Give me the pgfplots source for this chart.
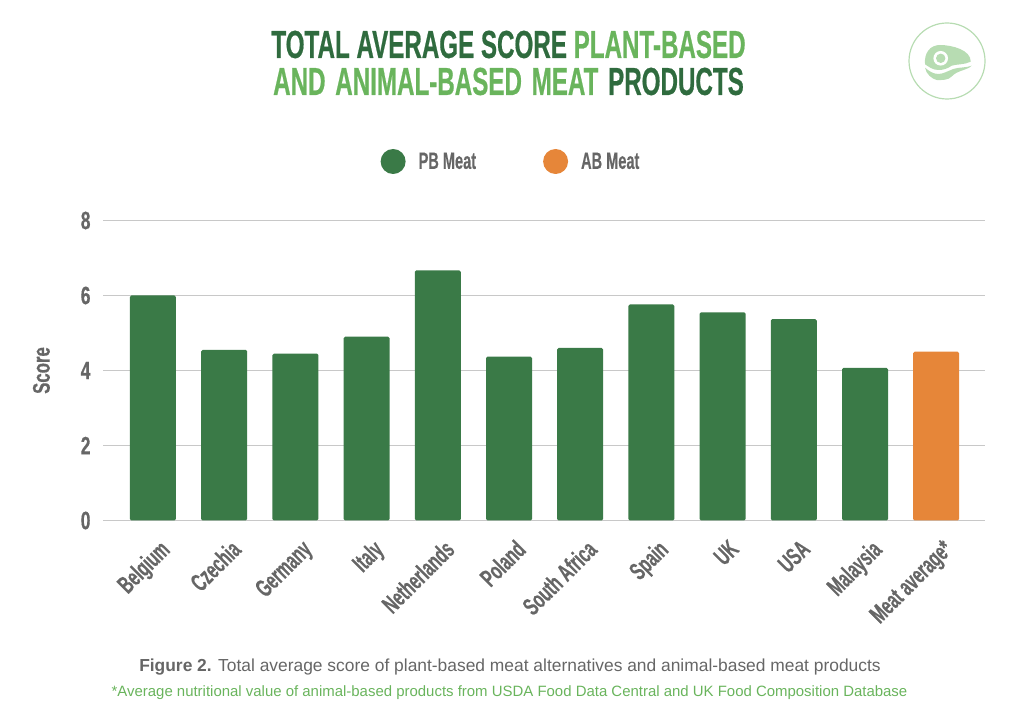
\documentclass[border=0pt]{standalone}
\usepackage{fontspec}
\setmainfont{Liberation Sans}
\newfontfamily\cond[FakeStretch=0.62,FakeBold=0.3]{Liberation Sans Bold}
\newfontfamily\condt[FakeStretch=0.62,FakeBold=0.5]{Liberation Sans Bold}
\newfontfamily\condw[FakeStretch=0.7,FakeBold=0.5]{Liberation Sans Bold}
\usepackage{pgfplots}
\pgfplotsset{compat=1.18}
\usepackage{pgfplotstable}

\definecolor{pbgreen}{HTML}{3A7A47}
\definecolor{abor}{HTML}{E68639}
\definecolor{titledark}{HTML}{2F6B3E}
\definecolor{titlelight}{HTML}{69B45C}
\definecolor{txtgrey}{HTML}{666666}
\definecolor{gridgrey}{HTML}{C8C8C8}
\definecolor{icongreen}{HTML}{B7DCB2}

\pgfplotstableread{
x score
0 6.00
1 4.55
2 4.45
3 4.90
4 6.67
5 4.37
6 4.60
7 5.76
8 5.55
9 5.37
10 4.07
}\pbmeat
\pgfplotstableread{
x score
11 4.50
}\abmeat

\begin{document}
\begin{tikzpicture}[x=1pt,y=1pt]
\path[use as bounding box] (0,0) rectangle (1024,725);

\begin{axis}[
    at={(103pt,204.5pt)},
    anchor=south west,
    width=882pt,
    height=300pt,
    scale only axis,
    xmin=-0.702,
    xmax=11.685,
    ymin=0,
    ymax=8,
    ytick={0,2,4,6,8},
    xtick={0,...,11},
    xticklabels={Belgium,Czechia,Germany,Italy,Netherlands,Poland,South Africa,Spain,UK,USA,Malaysia,Meat average*},
    axis x line*=bottom,
    axis y line*=left,
    axis line style={draw=none},
    major tick length=0pt,
    ymajorgrids,
    grid style={gridgrey,line width=1pt},
    axis on top=false,
    ylabel={Score},
    ylabel style={font=\condw\fontsize{24}{24}\selectfont,text=txtgrey,at={(axis description cs:-0.0562,0.5)},anchor=south},
    /pgf/number format/assume math mode=true,
    yticklabel style={font=\condw\fontsize{25}{25}\selectfont,text=txtgrey,xshift=-9pt},
    xticklabel style={font=\cond\fontsize{25}{25}\selectfont,text=txtgrey,rotate=45,anchor=north east,xshift=-5.5pt,yshift=-13pt},
    legend style={
        at={(408pt,359pt)},
        anchor=center,
        draw=none,
        fill=none,
        legend columns=2,
        font=\cond\fontsize{23.5}{23}\selectfont,
        text=txtgrey,
        /tikz/every even column/.append style={column sep=65pt},
    },
    legend cell align=left,
]
\addplot[ybar,bar width=46pt,bar shift=0pt,fill=pbgreen,draw=none,rounded corners=1.5pt,
    legend image code/.code={\fill[pbgreen] (6pt,0pt) circle (12.5pt);}]
    table[x=x,y=score] {\pbmeat};
\addlegendentry{\hspace{11pt}PB Meat}
\addplot[ybar,bar width=46pt,bar shift=0pt,fill=abor,draw=none,rounded corners=1.5pt,
    legend image code/.code={\fill[abor] (6pt,0pt) circle (12.5pt);}]
    table[x=x,y=score] {\abmeat};
\addlegendentry{\hspace{11pt}AB Meat}
\end{axis}

% title
\node[anchor=center,align=center,font=\condt\fontsize{39}{38}\selectfont] at (508.5,662) {%
    \textcolor{titledark}{TOTAL AVERAGE SCORE} \textcolor{titlelight}{PLANT-BASED}\\[-1pt]
    \textcolor{titlelight}{AND\hspace{3pt} ANIMAL-BASED\hspace{3pt} MEAT}\hspace{3pt} \textcolor{titledark}{PRODUCTS}};

% caption
\node[anchor=center,font=\fontsize{17.4}{17}\selectfont,text=txtgrey] at (510,58) {\textbf{Figure 2.} Total average score of plant-based meat alternatives and animal-based meat products};
\node[anchor=center,font=\fontsize{14.95}{15}\selectfont,text=titlelight] at (509.5,32) {*Average nutritional value of animal-based products from USDA Food Data Central and UK Food Composition Database};

% meat icon
\draw[icongreen,line width=1.2pt] (947,664) circle (38);
\fill[icongreen] (925,660.7) .. controls (924,672) and (930,680) .. (940,680)
    .. controls (952,680) and (971,675) .. (970.7,663.3)
    .. controls (964,660) and (957,661) .. (951.7,659.3)
    .. controls (947,656) and (943,655) .. (938.3,655)
    .. controls (933,655) and (929,658) .. (925,660.7) -- cycle;
\fill[icongreen] (925,657.3) .. controls (929,654) and (933,651) .. (938.3,651)
    .. controls (943,651) and (948,654) .. (953.3,656)
    .. controls (959,658) and (966,657) .. (971.7,659.3)
    .. controls (969,656) and (962,655) .. (956.7,652.3)
    .. controls (952,650) and (951,646) .. (945,645.3)
    .. controls (941,645) and (938,644.5) .. (936.7,645)
    .. controls (932,646) and (926,651) .. (925,657.3) -- cycle;
\fill[white] (940.7,666.7) circle (7.3);
\fill[icongreen] (940.7,666.7) circle (4.7);
\end{tikzpicture}
\end{document}
